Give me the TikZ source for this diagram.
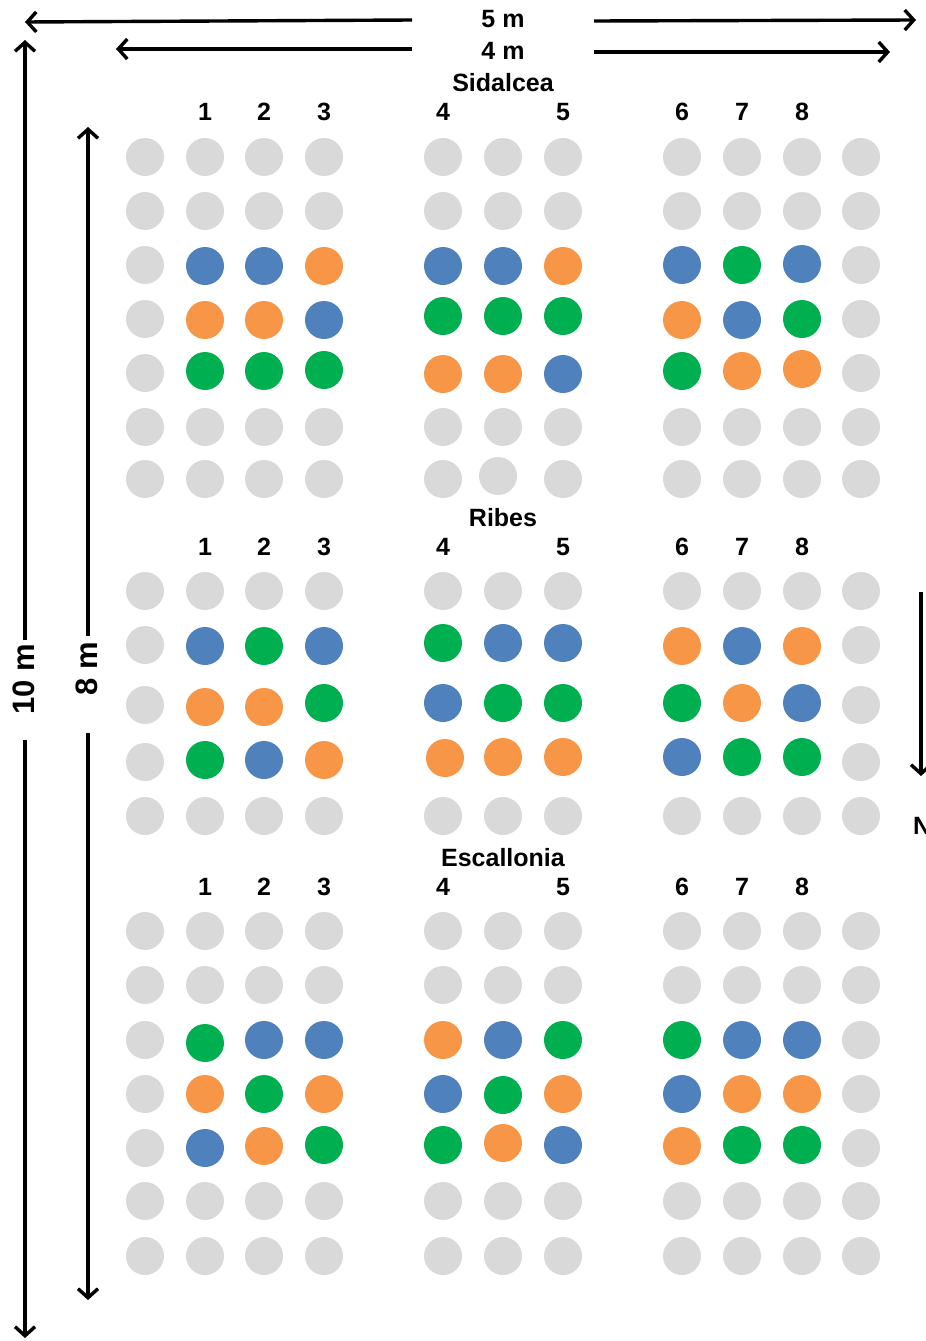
\documentclass[tikz,border=0pt]{standalone}
\usepackage{fontspec}
\setmainfont{Liberation Sans}
\usetikzlibrary{arrows.meta}
\definecolor{grayc}{HTML}{D9D9D9}
\definecolor{bluec}{HTML}{4F81BD}
\definecolor{orangec}{HTML}{F79646}
\definecolor{greenc}{HTML}{00B050}
\begin{document}
\begin{tikzpicture}[x=1pt,y=-1pt,
  pl/.style={circle, inner sep=0pt, minimum size=38pt, draw=none},
  cg/.style={pl, fill=grayc}, cb/.style={pl, fill=bluec},
  co/.style={pl, fill=orangec}, cn/.style={pl, fill=greenc},
  lab/.style={font=\bfseries\fontsize{25}{30}\selectfont, inner sep=0pt},
  vlab/.style={font=\bfseries\fontsize{31}{36}\selectfont, inner sep=0pt, rotate=90},
  arr/.style={line width=3.4pt, -{Straight Barb[length=9pt,width=20pt]}}]
\useasboundingbox (0,0) rectangle (926,1341);
% ---------- dimension arrows ----------
\node[lab] (t5) at (503,19) {5 m};
\node[lab] (t4) at (503,51) {4 m};
\coordinate (a5l) at (412,20); \coordinate (a5le) at (25,22);
\coordinate (a5r) at (594,21); \coordinate (a5re) at (916,20);
\coordinate (a4l) at (412,49); \coordinate (a4le) at (116,49);
\coordinate (a4r) at (594,52); \coordinate (a4re) at (890,52);
\draw[arr] (a5l) -- (a5le);
\draw[arr] (a5r) -- (a5re);
\draw[arr] (a4l) -- (a4le);
\draw[arr] (a4r) -- (a4re);
\node[vlab] (t10) at (24,679) {10 m};
\node[vlab] (t8) at (87,669) {8 m};
\coordinate (v10a) at (25,640); \coordinate (v10ae) at (25,40);
\coordinate (v10b) at (25,740); \coordinate (v10be) at (25,1338);
\coordinate (v8a) at (88,636); \coordinate (v8ae) at (88,127);
\coordinate (v8b) at (88,733); \coordinate (v8be) at (88,1300);
\draw[arr] (v10a) -- (v10ae);
\draw[arr] (v10b) -- (v10be);
\draw[arr] (v8a) -- (v8ae);
\draw[arr] (v8b) -- (v8be);
\coordinate (na) at (921,592); \coordinate (nb) at (921,776);
\draw[arr] (na) -- (nb);
\node[lab, anchor=west] (tN) at (913,826) {N};
% ---------- section titles and numbers ----------
\node[lab] (sid) at (503,83) {Sidalcea};
\node[lab] (rib) at (503,518) {Ribes};
\node[lab] (esc) at (503,858) {Escallonia};
\foreach \yy/\sec in {112/s,547/r,887/e}{
  \foreach \x/\n in {205/1,264/2,324/3,443/4,563/5,682/6,742/7,802/8}
    \node[lab] (\sec n\n) at (\x,\yy) {\n};
}
% ---------- Sidalcea ----------
\foreach \r/\yy in {1/157,2/211,6/427}{
  \foreach \x in {145,205,264,324,443,503,563,682,742,802,861}
    \node[cg] (s\r-\x) at (\x,\yy) {};
}
\foreach \x/\yy in {145/479,205/479,264/479,324/479,443/479,498/476,563/479,682/479,742/479,802/479,861/479}
  \node[cg] (s7-\x) at (\x,\yy) {};
\foreach \x/\yy/\s in {145/265/cg,205/266/cb,264/266/cb,324/266/co,443/266/cb,503/266/cb,563/266/co,682/265/cb,742/265/cn,802/264/cb,861/265/cg}
  \node[\s] (s3-\x) at (\x,\yy) {};
\foreach \x/\yy/\s in {145/319/cg,205/320/co,264/320/co,324/320/cb,443/316/cn,503/316/cn,563/316/cn,682/320/co,742/320/cb,802/319/cn,861/319/cg}
  \node[\s] (s4-\x) at (\x,\yy) {};
\foreach \x/\yy/\s in {145/373/cg,205/371/cn,264/371/cn,324/370/cn,443/374/co,503/374/co,563/374/cb,682/371/cn,742/371/co,802/369/co,861/373/cg}
  \node[\s] (s5-\x) at (\x,\yy) {};
% ---------- Ribes ----------
\foreach \x in {145,205,264,324,443,503,563,682,742,802,861}
  \node[cg] (r1-\x) at (\x,591) {};
\foreach \x/\yy/\s in {145/645/cg,205/646/cb,264/646/cn,324/646/cb,443/643/cn,503/643/cb,563/643/cb,682/646/co,742/646/cb,802/646/co,861/645/cg}
  \node[\s] (r2-\x) at (\x,\yy) {};
\foreach \x/\yy/\s in {145/705/cg,205/707/co,264/707/co,324/703/cn,443/703/cb,503/703/cn,563/703/cn,682/703/cn,742/703/co,802/703/cb,861/705/cg}
  \node[\s] (r3-\x) at (\x,\yy) {};
\foreach \x/\yy/\s in {145/762/cg,205/760/cn,264/760/cb,324/760/co,445/758/co,503/757/co,563/757/co,682/757/cb,742/757/cn,802/757/cn,861/762/cg}
  \node[\s] (r4-\x) at (\x,\yy) {};
\foreach \x in {145,205,264,324,443,503,563,682,742,802,861}
  \node[cg] (r5-\x) at (\x,816) {};
% ---------- Escallonia ----------
\foreach \r/\yy in {1/931,2/985,6/1201,7/1256}{
  \foreach \x in {145,205,264,324,443,503,563,682,742,802,861}
    \node[cg] (e\r-\x) at (\x,\yy) {};
}
\foreach \x/\yy/\s in {145/1040/cg,205/1043/cn,264/1040/cb,324/1040/cb,443/1040/co,503/1040/cb,563/1040/cn,682/1040/cn,742/1040/cb,802/1040/cb,861/1040/cg}
  \node[\s] (e3-\x) at (\x,\yy) {};
\foreach \x/\yy/\s in {145/1094/cg,205/1094/co,264/1094/cn,324/1094/co,443/1094/cb,503/1095/cn,563/1094/co,682/1094/cb,742/1094/co,802/1094/co,861/1094/cg}
  \node[\s] (e4-\x) at (\x,\yy) {};
\foreach \x/\yy/\s in {145/1148/cg,205/1148/cb,264/1146/co,324/1145/cn,443/1145/cn,503/1143/co,563/1145/cb,682/1146/co,742/1145/cn,802/1145/cn,861/1148/cg}
  \node[\s] (e5-\x) at (\x,\yy) {};
\end{tikzpicture}
\end{document}
